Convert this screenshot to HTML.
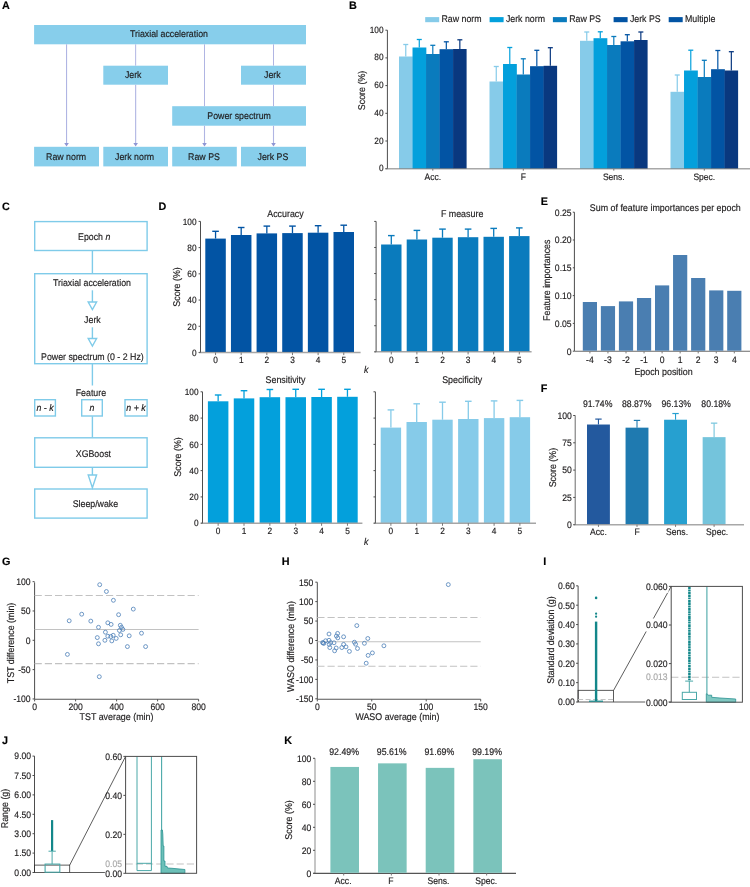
<!DOCTYPE html>
<html><head><meta charset="utf-8"><style>
html,body{margin:0;padding:0;background:#fff;}
svg{display:block;font-family:"Liberation Sans",sans-serif;will-change:transform;text-rendering:geometricPrecision;}
</style></head><body>
<svg width="750" height="887" viewBox="0 0 750 887">
<text x="0" y="0" font-size="10.8" text-anchor="start" font-weight="bold" fill="#000" stroke="#000" stroke-width="0.15" transform="translate(2 9.17)">A</text>
<rect x="34.1" y="25" width="271.9" height="19.3" fill="#87ceeb"/>
<text x="0" y="0" font-size="8.8" text-anchor="middle" fill="#1e1c1d" stroke="#1e1c1d" stroke-width="0.15" transform="translate(169 37.47) scale(1 1.1)">Triaxial acceleration</text>
<rect x="103.3" y="65.7" width="64.7" height="19" fill="#87ceeb"/>
<text x="0" y="0" font-size="8.8" text-anchor="middle" fill="#1e1c1d" stroke="#1e1c1d" stroke-width="0.15" transform="translate(133.2 77.97) scale(1 1.1)">Jerk</text>
<rect x="241" y="65.7" width="65" height="19" fill="#87ceeb"/>
<text x="0" y="0" font-size="8.8" text-anchor="middle" fill="#1e1c1d" stroke="#1e1c1d" stroke-width="0.15" transform="translate(272.3 77.97) scale(1 1.1)">Jerk</text>
<rect x="172.2" y="106.2" width="133.8" height="19.5" fill="#87ceeb"/>
<text x="0" y="0" font-size="8.8" text-anchor="middle" fill="#1e1c1d" stroke="#1e1c1d" stroke-width="0.15" transform="translate(239.1 119.07) scale(1 1.1)">Power spectrum</text>
<rect x="34.1" y="146.8" width="64.9" height="19.6" fill="#87ceeb"/>
<text x="0" y="0" font-size="8.8" text-anchor="middle" fill="#1e1c1d" stroke="#1e1c1d" stroke-width="0.15" transform="translate(66.1 159.57) scale(1 1.1)">Raw norm</text>
<rect x="103.3" y="146.8" width="64.7" height="19.6" fill="#87ceeb"/>
<text x="0" y="0" font-size="8.8" text-anchor="middle" fill="#1e1c1d" stroke="#1e1c1d" stroke-width="0.15" transform="translate(134.6 159.57) scale(1 1.1)">Jerk norm</text>
<rect x="172.2" y="146.8" width="64.6" height="19.6" fill="#87ceeb"/>
<text x="0" y="0" font-size="8.8" text-anchor="middle" fill="#1e1c1d" stroke="#1e1c1d" stroke-width="0.15" transform="translate(204 159.57) scale(1 1.1)">Raw PS</text>
<rect x="241" y="146.8" width="65" height="19.6" fill="#87ceeb"/>
<text x="0" y="0" font-size="8.8" text-anchor="middle" fill="#1e1c1d" stroke="#1e1c1d" stroke-width="0.15" transform="translate(272.9 159.57) scale(1 1.1)">Jerk PS</text>
<line x1="66.55" y1="44.3" x2="66.55" y2="143.8" stroke="#b0b5e3" stroke-width="1.1"/>
<polygon points="64.25,143 68.85,143 66.55,146.5" fill="#8e96d4"/>
<line x1="135.65" y1="44.3" x2="135.65" y2="65.7" stroke="#b0b5e3" stroke-width="1"/>
<line x1="135.65" y1="84.7" x2="135.65" y2="143.8" stroke="#b0b5e3" stroke-width="1.1"/>
<polygon points="133.35,143 137.95,143 135.65,146.5" fill="#8e96d4"/>
<line x1="204.5" y1="44.3" x2="204.5" y2="106.2" stroke="#b0b5e3" stroke-width="1"/>
<line x1="204.5" y1="125.7" x2="204.5" y2="143.8" stroke="#b0b5e3" stroke-width="1.1"/>
<polygon points="202.2,143 206.8,143 204.5,146.5" fill="#8e96d4"/>
<line x1="273.5" y1="44.3" x2="273.5" y2="65.7" stroke="#b0b5e3" stroke-width="1"/>
<line x1="273.5" y1="84.7" x2="273.5" y2="106.2" stroke="#b0b5e3" stroke-width="1"/>
<line x1="273.5" y1="125.7" x2="273.5" y2="143.8" stroke="#b0b5e3" stroke-width="1.1"/>
<polygon points="271.2,143 275.8,143 273.5,146.5" fill="#8e96d4"/>
<text x="0" y="0" font-size="10.8" text-anchor="start" font-weight="bold" fill="#000" stroke="#000" stroke-width="0.15" transform="translate(349 9.27)">B</text>
<rect x="425.2" y="17.1" width="14" height="5.1" fill="#86cbe9"/>
<text x="0" y="0" font-size="8.8" text-anchor="start" fill="#1e1c1d" stroke="#1e1c1d" stroke-width="0.15" transform="translate(441.5 22.47) scale(1 1.1)">Raw norm</text>
<rect x="489.6" y="17.1" width="14" height="5.1" fill="#03a0dc"/>
<text x="0" y="0" font-size="8.8" text-anchor="start" fill="#1e1c1d" stroke="#1e1c1d" stroke-width="0.15" transform="translate(505.9 22.47) scale(1 1.1)">Jerk norm</text>
<rect x="552.9" y="17.1" width="14" height="5.1" fill="#0a7bbd"/>
<text x="0" y="0" font-size="8.8" text-anchor="start" fill="#1e1c1d" stroke="#1e1c1d" stroke-width="0.15" transform="translate(569.2 22.47) scale(1 1.1)">Raw PS</text>
<rect x="613.6" y="17.1" width="14" height="5.1" fill="#0254a4"/>
<text x="0" y="0" font-size="8.8" text-anchor="start" fill="#1e1c1d" stroke="#1e1c1d" stroke-width="0.15" transform="translate(629.9 22.47) scale(1 1.1)">Jerk PS</text>
<rect x="668.7" y="17.1" width="14" height="5.1" fill="#0254a4"/>
<text x="0" y="0" font-size="8.8" text-anchor="start" fill="#1e1c1d" stroke="#1e1c1d" stroke-width="0.15" transform="translate(685 22.47) scale(1 1.1)">Multiple</text>
<line x1="387.4" y1="30.2" x2="387.4" y2="168.7" stroke="#4d4d4d" stroke-width="1"/>
<line x1="385.4" y1="168.7" x2="387.4" y2="168.7" stroke="#4d4d4d" stroke-width="1"/>
<text x="0" y="0" font-size="8.3" text-anchor="end" fill="#1e1c1d" stroke="#1e1c1d" stroke-width="0.15" transform="translate(383.6 171.27) scale(1 1.1)">0</text>
<line x1="385.4" y1="141" x2="387.4" y2="141" stroke="#4d4d4d" stroke-width="1"/>
<text x="0" y="0" font-size="8.3" text-anchor="end" fill="#1e1c1d" stroke="#1e1c1d" stroke-width="0.15" transform="translate(383.6 143.57) scale(1 1.1)">20</text>
<line x1="385.4" y1="113.3" x2="387.4" y2="113.3" stroke="#4d4d4d" stroke-width="1"/>
<text x="0" y="0" font-size="8.3" text-anchor="end" fill="#1e1c1d" stroke="#1e1c1d" stroke-width="0.15" transform="translate(383.6 115.87) scale(1 1.1)">40</text>
<line x1="385.4" y1="85.6" x2="387.4" y2="85.6" stroke="#4d4d4d" stroke-width="1"/>
<text x="0" y="0" font-size="8.3" text-anchor="end" fill="#1e1c1d" stroke="#1e1c1d" stroke-width="0.15" transform="translate(383.6 88.17) scale(1 1.1)">60</text>
<line x1="385.4" y1="57.9" x2="387.4" y2="57.9" stroke="#4d4d4d" stroke-width="1"/>
<text x="0" y="0" font-size="8.3" text-anchor="end" fill="#1e1c1d" stroke="#1e1c1d" stroke-width="0.15" transform="translate(383.6 60.47) scale(1 1.1)">80</text>
<line x1="385.4" y1="30.2" x2="387.4" y2="30.2" stroke="#4d4d4d" stroke-width="1"/>
<text x="0" y="0" font-size="8.3" text-anchor="end" fill="#1e1c1d" stroke="#1e1c1d" stroke-width="0.15" transform="translate(383.6 32.77) scale(1 1.1)">100</text>
<text x="0" y="0" font-size="8.9" text-anchor="middle" fill="#1e1c1d" stroke="#1e1c1d" stroke-width="0.15" transform="translate(361.1 90.5) rotate(-90) translate(0 3.5) scale(1 1.1)">Score (%)</text>
<rect x="399" y="56.5" width="13.82" height="112.2" fill="#86cbe9"/>
<line x1="405.76" y1="44.5" x2="405.76" y2="56.5" stroke="#86cbe9" stroke-width="1.2"/>
<line x1="403.26" y1="44.5" x2="408.26" y2="44.5" stroke="#86cbe9" stroke-width="1.3"/>
<rect x="412.52" y="47.5" width="13.82" height="121.2" fill="#03a0dc"/>
<line x1="419.28" y1="39.5" x2="419.28" y2="47.5" stroke="#03a0dc" stroke-width="1.2"/>
<line x1="416.78" y1="39.5" x2="421.78" y2="39.5" stroke="#03a0dc" stroke-width="1.3"/>
<rect x="426.04" y="54" width="13.82" height="114.7" fill="#0a7bbd"/>
<line x1="432.8" y1="45.3" x2="432.8" y2="54" stroke="#0a7bbd" stroke-width="1.2"/>
<line x1="430.3" y1="45.3" x2="435.3" y2="45.3" stroke="#0a7bbd" stroke-width="1.3"/>
<rect x="439.56" y="49.2" width="13.82" height="119.5" fill="#0254a4"/>
<line x1="446.32" y1="41.8" x2="446.32" y2="49.2" stroke="#0254a4" stroke-width="1.2"/>
<line x1="443.82" y1="41.8" x2="448.82" y2="41.8" stroke="#0254a4" stroke-width="1.3"/>
<rect x="453.08" y="49" width="13.52" height="119.7" fill="#09387f"/>
<line x1="459.84" y1="39.8" x2="459.84" y2="49" stroke="#09387f" stroke-width="1.2"/>
<line x1="457.34" y1="39.8" x2="462.34" y2="39.8" stroke="#09387f" stroke-width="1.3"/>
<line x1="432.8" y1="168.7" x2="432.8" y2="170.7" stroke="#7a7a7a" stroke-width="1"/>
<text x="0" y="0" font-size="8.5" text-anchor="middle" fill="#1e1c1d" stroke="#1e1c1d" stroke-width="0.15" transform="translate(432.8 179.65) scale(1 1.1)">Acc.</text>
<rect x="489.5" y="81.5" width="13.82" height="87.2" fill="#86cbe9"/>
<line x1="496.26" y1="66.5" x2="496.26" y2="81.5" stroke="#86cbe9" stroke-width="1.2"/>
<line x1="493.76" y1="66.5" x2="498.76" y2="66.5" stroke="#86cbe9" stroke-width="1.3"/>
<rect x="503.02" y="64" width="13.82" height="104.7" fill="#03a0dc"/>
<line x1="509.78" y1="47.5" x2="509.78" y2="64" stroke="#03a0dc" stroke-width="1.2"/>
<line x1="507.28" y1="47.5" x2="512.28" y2="47.5" stroke="#03a0dc" stroke-width="1.3"/>
<rect x="516.54" y="74.5" width="13.82" height="94.2" fill="#0a7bbd"/>
<line x1="523.3" y1="58.8" x2="523.3" y2="74.5" stroke="#0a7bbd" stroke-width="1.2"/>
<line x1="520.8" y1="58.8" x2="525.8" y2="58.8" stroke="#0a7bbd" stroke-width="1.3"/>
<rect x="530.06" y="66.2" width="13.82" height="102.5" fill="#0254a4"/>
<line x1="536.82" y1="50.3" x2="536.82" y2="66.2" stroke="#0254a4" stroke-width="1.2"/>
<line x1="534.32" y1="50.3" x2="539.32" y2="50.3" stroke="#0254a4" stroke-width="1.3"/>
<rect x="543.58" y="65.8" width="13.52" height="102.9" fill="#09387f"/>
<line x1="550.34" y1="47.7" x2="550.34" y2="65.8" stroke="#09387f" stroke-width="1.2"/>
<line x1="547.84" y1="47.7" x2="552.84" y2="47.7" stroke="#09387f" stroke-width="1.3"/>
<line x1="523.3" y1="168.7" x2="523.3" y2="170.7" stroke="#7a7a7a" stroke-width="1"/>
<text x="0" y="0" font-size="8.5" text-anchor="middle" fill="#1e1c1d" stroke="#1e1c1d" stroke-width="0.15" transform="translate(523.3 179.65) scale(1 1.1)">F</text>
<rect x="580" y="40.8" width="13.82" height="127.9" fill="#86cbe9"/>
<line x1="586.76" y1="32" x2="586.76" y2="40.8" stroke="#86cbe9" stroke-width="1.2"/>
<line x1="584.26" y1="32" x2="589.26" y2="32" stroke="#86cbe9" stroke-width="1.3"/>
<rect x="593.52" y="38.2" width="13.82" height="130.5" fill="#03a0dc"/>
<line x1="600.28" y1="31.8" x2="600.28" y2="38.2" stroke="#03a0dc" stroke-width="1.2"/>
<line x1="597.78" y1="31.8" x2="602.78" y2="31.8" stroke="#03a0dc" stroke-width="1.3"/>
<rect x="607.04" y="45" width="13.82" height="123.7" fill="#0a7bbd"/>
<line x1="613.8" y1="36.5" x2="613.8" y2="45" stroke="#0a7bbd" stroke-width="1.2"/>
<line x1="611.3" y1="36.5" x2="616.3" y2="36.5" stroke="#0a7bbd" stroke-width="1.3"/>
<rect x="620.56" y="41.3" width="13.82" height="127.4" fill="#0254a4"/>
<line x1="627.32" y1="34.7" x2="627.32" y2="41.3" stroke="#0254a4" stroke-width="1.2"/>
<line x1="624.82" y1="34.7" x2="629.82" y2="34.7" stroke="#0254a4" stroke-width="1.3"/>
<rect x="634.08" y="40" width="13.52" height="128.7" fill="#09387f"/>
<line x1="640.84" y1="32" x2="640.84" y2="40" stroke="#09387f" stroke-width="1.2"/>
<line x1="638.34" y1="32" x2="643.34" y2="32" stroke="#09387f" stroke-width="1.3"/>
<line x1="613.8" y1="168.7" x2="613.8" y2="170.7" stroke="#7a7a7a" stroke-width="1"/>
<text x="0" y="0" font-size="8.5" text-anchor="middle" fill="#1e1c1d" stroke="#1e1c1d" stroke-width="0.15" transform="translate(613.8 179.65) scale(1 1.1)">Sens.</text>
<rect x="670.5" y="91.8" width="13.82" height="76.9" fill="#86cbe9"/>
<line x1="677.26" y1="75" x2="677.26" y2="91.8" stroke="#86cbe9" stroke-width="1.2"/>
<line x1="674.76" y1="75" x2="679.76" y2="75" stroke="#86cbe9" stroke-width="1.3"/>
<rect x="684.02" y="70.5" width="13.82" height="98.2" fill="#03a0dc"/>
<line x1="690.78" y1="50.2" x2="690.78" y2="70.5" stroke="#03a0dc" stroke-width="1.2"/>
<line x1="688.28" y1="50.2" x2="693.28" y2="50.2" stroke="#03a0dc" stroke-width="1.3"/>
<rect x="697.54" y="77" width="13.82" height="91.7" fill="#0a7bbd"/>
<line x1="704.3" y1="60.3" x2="704.3" y2="77" stroke="#0a7bbd" stroke-width="1.2"/>
<line x1="701.8" y1="60.3" x2="706.8" y2="60.3" stroke="#0a7bbd" stroke-width="1.3"/>
<rect x="711.06" y="69.2" width="13.82" height="99.5" fill="#0254a4"/>
<line x1="717.82" y1="50.5" x2="717.82" y2="69.2" stroke="#0254a4" stroke-width="1.2"/>
<line x1="715.32" y1="50.5" x2="720.32" y2="50.5" stroke="#0254a4" stroke-width="1.3"/>
<rect x="724.58" y="70.5" width="13.52" height="98.2" fill="#09387f"/>
<line x1="731.34" y1="51.7" x2="731.34" y2="70.5" stroke="#09387f" stroke-width="1.2"/>
<line x1="728.84" y1="51.7" x2="733.84" y2="51.7" stroke="#09387f" stroke-width="1.3"/>
<line x1="704.3" y1="168.7" x2="704.3" y2="170.7" stroke="#7a7a7a" stroke-width="1"/>
<text x="0" y="0" font-size="8.5" text-anchor="middle" fill="#1e1c1d" stroke="#1e1c1d" stroke-width="0.15" transform="translate(704.3 179.65) scale(1 1.1)">Spec.</text>
<line x1="385.4" y1="168.7" x2="750" y2="168.7" stroke="#6e6e6e" stroke-width="1.5" stroke-opacity="0.6"/>
<text x="0" y="0" font-size="10.8" text-anchor="start" font-weight="bold" fill="#000" stroke="#000" stroke-width="0.15" transform="translate(2 210.37)">C</text>
<rect x="34.7" y="221.6" width="112.4" height="28.9" fill="none" stroke="#7fcbe9" stroke-width="1.4"/>
<text x="0" y="0" font-size="8.8" text-anchor="middle" fill="#1e1c1d" stroke="#1e1c1d" stroke-width="0.15" transform="translate(94.2 239.97) scale(1 1.1)">Epoch <tspan font-style="italic">n</tspan></text>
<line x1="92.4" y1="250.8" x2="92.4" y2="273.2" stroke="#7fcbe9" stroke-width="1.4"/>
<rect x="34.7" y="273.7" width="112.4" height="90" fill="none" stroke="#7fcbe9" stroke-width="1.4"/>
<text x="0" y="0" font-size="8.8" text-anchor="middle" fill="#1e1c1d" stroke="#1e1c1d" stroke-width="0.15" transform="translate(92 286.27) scale(1 1.1)">Triaxial acceleration</text>
<line x1="92.4" y1="290.3" x2="92.4" y2="302" stroke="#7fcbe9" stroke-width="1.4"/>
<polygon points="88.2,302 96.6,302 92.4,309.5" fill="#fff" stroke="#7fcbe9" stroke-width="1.4"/>
<text x="0" y="0" font-size="8.8" text-anchor="middle" fill="#1e1c1d" stroke="#1e1c1d" stroke-width="0.15" transform="translate(92.4 323.07) scale(1 1.1)">Jerk</text>
<line x1="92.4" y1="327.3" x2="92.4" y2="338.5" stroke="#7fcbe9" stroke-width="1.4"/>
<polygon points="88.2,338.5 96.6,338.5 92.4,346" fill="#fff" stroke="#7fcbe9" stroke-width="1.4"/>
<text x="0" y="0" font-size="8.8" text-anchor="middle" fill="#1e1c1d" stroke="#1e1c1d" stroke-width="0.15" transform="translate(92.4 359.57) scale(1 1.1)">Power spectrum (0 - 2 Hz)</text>
<line x1="92.4" y1="364" x2="92.4" y2="385.5" stroke="#7fcbe9" stroke-width="1.4"/>
<text x="0" y="0" font-size="8.8" text-anchor="middle" fill="#1e1c1d" stroke="#1e1c1d" stroke-width="0.15" transform="translate(90.9 396.27) scale(1 1.1)">Feature</text>
<rect x="34.7" y="399.7" width="20.7" height="16.3" fill="none" stroke="#7fcbe9" stroke-width="1.4"/>
<rect x="81.7" y="399.7" width="20.6" height="16.3" fill="none" stroke="#7fcbe9" stroke-width="1.4"/>
<rect x="125" y="399.7" width="22.1" height="16.3" fill="none" stroke="#7fcbe9" stroke-width="1.4"/>
<text x="0" y="0" font-size="8.8" text-anchor="middle" font-style="italic" fill="#1e1c1d" stroke="#1e1c1d" stroke-width="0.15" transform="translate(45 411.27) scale(1 1.1)">n - k</text>
<text x="0" y="0" font-size="8.8" text-anchor="middle" font-style="italic" fill="#1e1c1d" stroke="#1e1c1d" stroke-width="0.15" transform="translate(92 411.27) scale(1 1.1)">n</text>
<text x="0" y="0" font-size="8.8" text-anchor="middle" font-style="italic" fill="#1e1c1d" stroke="#1e1c1d" stroke-width="0.15" transform="translate(136 411.27) scale(1 1.1)">n + k</text>
<line x1="92.4" y1="416.3" x2="92.4" y2="437.3" stroke="#7fcbe9" stroke-width="1.4"/>
<rect x="34.7" y="437.8" width="112.4" height="29.5" fill="none" stroke="#7fcbe9" stroke-width="1.4"/>
<text x="0" y="0" font-size="8.8" text-anchor="middle" fill="#1e1c1d" stroke="#1e1c1d" stroke-width="0.15" transform="translate(93.4 457.17) scale(1 1.1)">XGBoost</text>
<line x1="92.4" y1="467.6" x2="92.4" y2="475" stroke="#7fcbe9" stroke-width="1.4"/>
<polygon points="88.2,475 96.6,475 92.4,487.8" fill="#fff" stroke="#7fcbe9" stroke-width="1.4"/>
<rect x="34.7" y="489" width="112.4" height="29.1" fill="none" stroke="#7fcbe9" stroke-width="1.4"/>
<text x="0" y="0" font-size="8.8" text-anchor="middle" fill="#1e1c1d" stroke="#1e1c1d" stroke-width="0.15" transform="translate(95.4 507.37) scale(1 1.1)">Sleep/wake</text>
<text x="0" y="0" font-size="10.8" text-anchor="start" font-weight="bold" fill="#000" stroke="#000" stroke-width="0.15" transform="translate(158.5 210.47)">D</text>
<line x1="200.5" y1="221.4" x2="200.5" y2="352.5" stroke="#4d4d4d" stroke-width="1"/>
<line x1="198.6" y1="352.5" x2="200.5" y2="352.5" stroke="#4d4d4d" stroke-width="1"/>
<text x="0" y="0" font-size="8.3" text-anchor="end" fill="#1e1c1d" stroke="#1e1c1d" stroke-width="0.15" transform="translate(196.5 355.77) scale(1 1.1)">0</text>
<line x1="198.6" y1="326.28" x2="200.5" y2="326.28" stroke="#4d4d4d" stroke-width="1"/>
<text x="0" y="0" font-size="8.3" text-anchor="end" fill="#1e1c1d" stroke="#1e1c1d" stroke-width="0.15" transform="translate(196.5 329.55) scale(1 1.1)">20</text>
<line x1="198.6" y1="300.06" x2="200.5" y2="300.06" stroke="#4d4d4d" stroke-width="1"/>
<text x="0" y="0" font-size="8.3" text-anchor="end" fill="#1e1c1d" stroke="#1e1c1d" stroke-width="0.15" transform="translate(196.5 303.33) scale(1 1.1)">40</text>
<line x1="198.6" y1="273.84" x2="200.5" y2="273.84" stroke="#4d4d4d" stroke-width="1"/>
<text x="0" y="0" font-size="8.3" text-anchor="end" fill="#1e1c1d" stroke="#1e1c1d" stroke-width="0.15" transform="translate(196.5 277.11) scale(1 1.1)">60</text>
<line x1="198.6" y1="247.62" x2="200.5" y2="247.62" stroke="#4d4d4d" stroke-width="1"/>
<text x="0" y="0" font-size="8.3" text-anchor="end" fill="#1e1c1d" stroke="#1e1c1d" stroke-width="0.15" transform="translate(196.5 250.89) scale(1 1.1)">80</text>
<line x1="198.6" y1="221.4" x2="200.5" y2="221.4" stroke="#4d4d4d" stroke-width="1"/>
<text x="0" y="0" font-size="8.3" text-anchor="end" fill="#1e1c1d" stroke="#1e1c1d" stroke-width="0.15" transform="translate(196.5 224.67) scale(1 1.1)">100</text>
<rect x="205.3" y="238.6" width="20.5" height="113.4" fill="#0254a4"/>
<line x1="215.55" y1="231.3" x2="215.55" y2="238.6" stroke="#0254a4" stroke-width="1.3"/>
<line x1="212.25" y1="231.3" x2="218.85" y2="231.3" stroke="#0254a4" stroke-width="1.4"/>
<line x1="215.55" y1="352.5" x2="215.55" y2="355.1" stroke="#7a7a7a" stroke-width="1"/>
<text x="0" y="0" font-size="8.3" text-anchor="middle" fill="#1e1c1d" stroke="#1e1c1d" stroke-width="0.15" transform="translate(215.55 363.47) scale(1 1.1)">0</text>
<rect x="230.94" y="235" width="20.5" height="117" fill="#0254a4"/>
<line x1="241.19" y1="227.5" x2="241.19" y2="235" stroke="#0254a4" stroke-width="1.3"/>
<line x1="237.89" y1="227.5" x2="244.49" y2="227.5" stroke="#0254a4" stroke-width="1.4"/>
<line x1="241.19" y1="352.5" x2="241.19" y2="355.1" stroke="#7a7a7a" stroke-width="1"/>
<text x="0" y="0" font-size="8.3" text-anchor="middle" fill="#1e1c1d" stroke="#1e1c1d" stroke-width="0.15" transform="translate(241.19 363.47) scale(1 1.1)">1</text>
<rect x="256.58" y="233.4" width="20.5" height="118.6" fill="#0254a4"/>
<line x1="266.83" y1="226.1" x2="266.83" y2="233.4" stroke="#0254a4" stroke-width="1.3"/>
<line x1="263.53" y1="226.1" x2="270.13" y2="226.1" stroke="#0254a4" stroke-width="1.4"/>
<line x1="266.83" y1="352.5" x2="266.83" y2="355.1" stroke="#7a7a7a" stroke-width="1"/>
<text x="0" y="0" font-size="8.3" text-anchor="middle" fill="#1e1c1d" stroke="#1e1c1d" stroke-width="0.15" transform="translate(266.83 363.47) scale(1 1.1)">2</text>
<rect x="282.22" y="233.1" width="20.5" height="118.9" fill="#0254a4"/>
<line x1="292.47" y1="226.1" x2="292.47" y2="233.1" stroke="#0254a4" stroke-width="1.3"/>
<line x1="289.17" y1="226.1" x2="295.77" y2="226.1" stroke="#0254a4" stroke-width="1.4"/>
<line x1="292.47" y1="352.5" x2="292.47" y2="355.1" stroke="#7a7a7a" stroke-width="1"/>
<text x="0" y="0" font-size="8.3" text-anchor="middle" fill="#1e1c1d" stroke="#1e1c1d" stroke-width="0.15" transform="translate(292.47 363.47) scale(1 1.1)">3</text>
<rect x="307.86" y="232.7" width="20.5" height="119.3" fill="#0254a4"/>
<line x1="318.11" y1="225.7" x2="318.11" y2="232.7" stroke="#0254a4" stroke-width="1.3"/>
<line x1="314.81" y1="225.7" x2="321.41" y2="225.7" stroke="#0254a4" stroke-width="1.4"/>
<line x1="318.11" y1="352.5" x2="318.11" y2="355.1" stroke="#7a7a7a" stroke-width="1"/>
<text x="0" y="0" font-size="8.3" text-anchor="middle" fill="#1e1c1d" stroke="#1e1c1d" stroke-width="0.15" transform="translate(318.11 363.47) scale(1 1.1)">4</text>
<rect x="333.5" y="232" width="20.5" height="120" fill="#0254a4"/>
<line x1="343.75" y1="225.2" x2="343.75" y2="232" stroke="#0254a4" stroke-width="1.3"/>
<line x1="340.45" y1="225.2" x2="347.05" y2="225.2" stroke="#0254a4" stroke-width="1.4"/>
<line x1="343.75" y1="352.5" x2="343.75" y2="355.1" stroke="#7a7a7a" stroke-width="1"/>
<text x="0" y="0" font-size="8.3" text-anchor="middle" fill="#1e1c1d" stroke="#1e1c1d" stroke-width="0.15" transform="translate(343.75 363.47) scale(1 1.1)">5</text>
<line x1="199" y1="352.5" x2="360.6" y2="352.5" stroke="#6e6e6e" stroke-width="1.4" stroke-opacity="0.62"/>
<text x="0" y="0" font-size="8.9" text-anchor="middle" fill="#1e1c1d" stroke="#1e1c1d" stroke-width="0.15" transform="translate(285.5 217) scale(1 1.1)">Accuracy</text>
<text x="0" y="0" font-size="8.9" text-anchor="middle" fill="#1e1c1d" stroke="#1e1c1d" stroke-width="0.15" transform="translate(176.6 287) rotate(-90) translate(0 3.5) scale(1 1.1)">Score (%)</text>
<line x1="376.1" y1="221.4" x2="376.1" y2="351.8" stroke="#4d4d4d" stroke-width="1"/>
<line x1="374.2" y1="351.8" x2="376.1" y2="351.8" stroke="#4d4d4d" stroke-width="1"/>
<line x1="374.2" y1="325.72" x2="376.1" y2="325.72" stroke="#4d4d4d" stroke-width="1"/>
<line x1="374.2" y1="299.64" x2="376.1" y2="299.64" stroke="#4d4d4d" stroke-width="1"/>
<line x1="374.2" y1="273.56" x2="376.1" y2="273.56" stroke="#4d4d4d" stroke-width="1"/>
<line x1="374.2" y1="247.48" x2="376.1" y2="247.48" stroke="#4d4d4d" stroke-width="1"/>
<line x1="374.2" y1="221.4" x2="376.1" y2="221.4" stroke="#4d4d4d" stroke-width="1"/>
<rect x="381.1" y="244.5" width="20.4" height="106.8" fill="#0a7bbd"/>
<line x1="391.3" y1="235.6" x2="391.3" y2="244.5" stroke="#0a7bbd" stroke-width="1.3"/>
<line x1="388" y1="235.6" x2="394.6" y2="235.6" stroke="#0a7bbd" stroke-width="1.4"/>
<line x1="391.3" y1="351.8" x2="391.3" y2="354.4" stroke="#7a7a7a" stroke-width="1"/>
<text x="0" y="0" font-size="8.3" text-anchor="middle" fill="#1e1c1d" stroke="#1e1c1d" stroke-width="0.15" transform="translate(391.3 362.77) scale(1 1.1)">0</text>
<rect x="406.7" y="239.5" width="20.4" height="111.8" fill="#0a7bbd"/>
<line x1="416.9" y1="230.4" x2="416.9" y2="239.5" stroke="#0a7bbd" stroke-width="1.3"/>
<line x1="413.6" y1="230.4" x2="420.2" y2="230.4" stroke="#0a7bbd" stroke-width="1.4"/>
<line x1="416.9" y1="351.8" x2="416.9" y2="354.4" stroke="#7a7a7a" stroke-width="1"/>
<text x="0" y="0" font-size="8.3" text-anchor="middle" fill="#1e1c1d" stroke="#1e1c1d" stroke-width="0.15" transform="translate(416.9 362.77) scale(1 1.1)">1</text>
<rect x="432.3" y="237.7" width="20.4" height="113.6" fill="#0a7bbd"/>
<line x1="442.5" y1="229.1" x2="442.5" y2="237.7" stroke="#0a7bbd" stroke-width="1.3"/>
<line x1="439.2" y1="229.1" x2="445.8" y2="229.1" stroke="#0a7bbd" stroke-width="1.4"/>
<line x1="442.5" y1="351.8" x2="442.5" y2="354.4" stroke="#7a7a7a" stroke-width="1"/>
<text x="0" y="0" font-size="8.3" text-anchor="middle" fill="#1e1c1d" stroke="#1e1c1d" stroke-width="0.15" transform="translate(442.5 362.77) scale(1 1.1)">2</text>
<rect x="457.9" y="237.2" width="20.4" height="114.1" fill="#0a7bbd"/>
<line x1="468.1" y1="229.1" x2="468.1" y2="237.2" stroke="#0a7bbd" stroke-width="1.3"/>
<line x1="464.8" y1="229.1" x2="471.4" y2="229.1" stroke="#0a7bbd" stroke-width="1.4"/>
<line x1="468.1" y1="351.8" x2="468.1" y2="354.4" stroke="#7a7a7a" stroke-width="1"/>
<text x="0" y="0" font-size="8.3" text-anchor="middle" fill="#1e1c1d" stroke="#1e1c1d" stroke-width="0.15" transform="translate(468.1 362.77) scale(1 1.1)">3</text>
<rect x="483.5" y="236.8" width="20.4" height="114.5" fill="#0a7bbd"/>
<line x1="493.7" y1="228.4" x2="493.7" y2="236.8" stroke="#0a7bbd" stroke-width="1.3"/>
<line x1="490.4" y1="228.4" x2="497" y2="228.4" stroke="#0a7bbd" stroke-width="1.4"/>
<line x1="493.7" y1="351.8" x2="493.7" y2="354.4" stroke="#7a7a7a" stroke-width="1"/>
<text x="0" y="0" font-size="8.3" text-anchor="middle" fill="#1e1c1d" stroke="#1e1c1d" stroke-width="0.15" transform="translate(493.7 362.77) scale(1 1.1)">4</text>
<rect x="509.1" y="236.1" width="20.4" height="115.2" fill="#0a7bbd"/>
<line x1="519.3" y1="227.9" x2="519.3" y2="236.1" stroke="#0a7bbd" stroke-width="1.3"/>
<line x1="516" y1="227.9" x2="522.6" y2="227.9" stroke="#0a7bbd" stroke-width="1.4"/>
<line x1="519.3" y1="351.8" x2="519.3" y2="354.4" stroke="#7a7a7a" stroke-width="1"/>
<text x="0" y="0" font-size="8.3" text-anchor="middle" fill="#1e1c1d" stroke="#1e1c1d" stroke-width="0.15" transform="translate(519.3 362.77) scale(1 1.1)">5</text>
<line x1="374.6" y1="351.8" x2="531.6" y2="351.8" stroke="#6e6e6e" stroke-width="1.4" stroke-opacity="0.62"/>
<text x="0" y="0" font-size="8.9" text-anchor="middle" fill="#1e1c1d" stroke="#1e1c1d" stroke-width="0.15" transform="translate(462.1 217) scale(1 1.1)">F measure</text>
<line x1="202.5" y1="391.8" x2="202.5" y2="523.2" stroke="#4d4d4d" stroke-width="1"/>
<line x1="200.6" y1="523.2" x2="202.5" y2="523.2" stroke="#4d4d4d" stroke-width="1"/>
<text x="0" y="0" font-size="8.3" text-anchor="end" fill="#1e1c1d" stroke="#1e1c1d" stroke-width="0.15" transform="translate(198.5 526.47) scale(1 1.1)">0</text>
<line x1="200.6" y1="496.92" x2="202.5" y2="496.92" stroke="#4d4d4d" stroke-width="1"/>
<text x="0" y="0" font-size="8.3" text-anchor="end" fill="#1e1c1d" stroke="#1e1c1d" stroke-width="0.15" transform="translate(198.5 500.19) scale(1 1.1)">20</text>
<line x1="200.6" y1="470.64" x2="202.5" y2="470.64" stroke="#4d4d4d" stroke-width="1"/>
<text x="0" y="0" font-size="8.3" text-anchor="end" fill="#1e1c1d" stroke="#1e1c1d" stroke-width="0.15" transform="translate(198.5 473.91) scale(1 1.1)">40</text>
<line x1="200.6" y1="444.36" x2="202.5" y2="444.36" stroke="#4d4d4d" stroke-width="1"/>
<text x="0" y="0" font-size="8.3" text-anchor="end" fill="#1e1c1d" stroke="#1e1c1d" stroke-width="0.15" transform="translate(198.5 447.63) scale(1 1.1)">60</text>
<line x1="200.6" y1="418.08" x2="202.5" y2="418.08" stroke="#4d4d4d" stroke-width="1"/>
<text x="0" y="0" font-size="8.3" text-anchor="end" fill="#1e1c1d" stroke="#1e1c1d" stroke-width="0.15" transform="translate(198.5 421.35) scale(1 1.1)">80</text>
<line x1="200.6" y1="391.8" x2="202.5" y2="391.8" stroke="#4d4d4d" stroke-width="1"/>
<text x="0" y="0" font-size="8.3" text-anchor="end" fill="#1e1c1d" stroke="#1e1c1d" stroke-width="0.15" transform="translate(198.5 395.07) scale(1 1.1)">100</text>
<rect x="207.9" y="401.3" width="20.5" height="121.4" fill="#03a0dc"/>
<line x1="218.15" y1="395" x2="218.15" y2="401.3" stroke="#03a0dc" stroke-width="1.3"/>
<line x1="214.85" y1="395" x2="221.45" y2="395" stroke="#03a0dc" stroke-width="1.4"/>
<line x1="218.15" y1="523.2" x2="218.15" y2="525.8" stroke="#7a7a7a" stroke-width="1"/>
<text x="0" y="0" font-size="8.3" text-anchor="middle" fill="#1e1c1d" stroke="#1e1c1d" stroke-width="0.15" transform="translate(218.15 534.17) scale(1 1.1)">0</text>
<rect x="233.76" y="398.4" width="20.5" height="124.3" fill="#03a0dc"/>
<line x1="244.01" y1="390.7" x2="244.01" y2="398.4" stroke="#03a0dc" stroke-width="1.3"/>
<line x1="240.71" y1="390.7" x2="247.31" y2="390.7" stroke="#03a0dc" stroke-width="1.4"/>
<line x1="244.01" y1="523.2" x2="244.01" y2="525.8" stroke="#7a7a7a" stroke-width="1"/>
<text x="0" y="0" font-size="8.3" text-anchor="middle" fill="#1e1c1d" stroke="#1e1c1d" stroke-width="0.15" transform="translate(244.01 534.17) scale(1 1.1)">1</text>
<rect x="259.62" y="397.2" width="20.5" height="125.5" fill="#03a0dc"/>
<line x1="269.87" y1="389.5" x2="269.87" y2="397.2" stroke="#03a0dc" stroke-width="1.3"/>
<line x1="266.57" y1="389.5" x2="273.17" y2="389.5" stroke="#03a0dc" stroke-width="1.4"/>
<line x1="269.87" y1="523.2" x2="269.87" y2="525.8" stroke="#7a7a7a" stroke-width="1"/>
<text x="0" y="0" font-size="8.3" text-anchor="middle" fill="#1e1c1d" stroke="#1e1c1d" stroke-width="0.15" transform="translate(269.87 534.17) scale(1 1.1)">2</text>
<rect x="285.48" y="397.2" width="20.5" height="125.5" fill="#03a0dc"/>
<line x1="295.73" y1="389.3" x2="295.73" y2="397.2" stroke="#03a0dc" stroke-width="1.3"/>
<line x1="292.43" y1="389.3" x2="299.03" y2="389.3" stroke="#03a0dc" stroke-width="1.4"/>
<line x1="295.73" y1="523.2" x2="295.73" y2="525.8" stroke="#7a7a7a" stroke-width="1"/>
<text x="0" y="0" font-size="8.3" text-anchor="middle" fill="#1e1c1d" stroke="#1e1c1d" stroke-width="0.15" transform="translate(295.73 534.17) scale(1 1.1)">3</text>
<rect x="311.34" y="397" width="20.5" height="125.7" fill="#03a0dc"/>
<line x1="321.59" y1="389.3" x2="321.59" y2="397" stroke="#03a0dc" stroke-width="1.3"/>
<line x1="318.29" y1="389.3" x2="324.89" y2="389.3" stroke="#03a0dc" stroke-width="1.4"/>
<line x1="321.59" y1="523.2" x2="321.59" y2="525.8" stroke="#7a7a7a" stroke-width="1"/>
<text x="0" y="0" font-size="8.3" text-anchor="middle" fill="#1e1c1d" stroke="#1e1c1d" stroke-width="0.15" transform="translate(321.59 534.17) scale(1 1.1)">4</text>
<rect x="337.2" y="396.8" width="20.5" height="125.9" fill="#03a0dc"/>
<line x1="347.45" y1="389.3" x2="347.45" y2="396.8" stroke="#03a0dc" stroke-width="1.3"/>
<line x1="344.15" y1="389.3" x2="350.75" y2="389.3" stroke="#03a0dc" stroke-width="1.4"/>
<line x1="347.45" y1="523.2" x2="347.45" y2="525.8" stroke="#7a7a7a" stroke-width="1"/>
<text x="0" y="0" font-size="8.3" text-anchor="middle" fill="#1e1c1d" stroke="#1e1c1d" stroke-width="0.15" transform="translate(347.45 534.17) scale(1 1.1)">5</text>
<line x1="201" y1="523.2" x2="362.4" y2="523.2" stroke="#6e6e6e" stroke-width="1.4" stroke-opacity="0.62"/>
<text x="0" y="0" font-size="8.9" text-anchor="middle" fill="#1e1c1d" stroke="#1e1c1d" stroke-width="0.15" transform="translate(285.5 383.3) scale(1 1.1)">Sensitivity</text>
<text x="0" y="0" font-size="8.9" text-anchor="middle" fill="#1e1c1d" stroke="#1e1c1d" stroke-width="0.15" transform="translate(177.5 457) rotate(-90) translate(0 3.5) scale(1 1.1)">Score (%)</text>
<line x1="375.4" y1="391.8" x2="375.4" y2="523.2" stroke="#4d4d4d" stroke-width="1"/>
<line x1="373.5" y1="523.2" x2="375.4" y2="523.2" stroke="#4d4d4d" stroke-width="1"/>
<line x1="373.5" y1="496.92" x2="375.4" y2="496.92" stroke="#4d4d4d" stroke-width="1"/>
<line x1="373.5" y1="470.64" x2="375.4" y2="470.64" stroke="#4d4d4d" stroke-width="1"/>
<line x1="373.5" y1="444.36" x2="375.4" y2="444.36" stroke="#4d4d4d" stroke-width="1"/>
<line x1="373.5" y1="418.08" x2="375.4" y2="418.08" stroke="#4d4d4d" stroke-width="1"/>
<line x1="373.5" y1="391.8" x2="375.4" y2="391.8" stroke="#4d4d4d" stroke-width="1"/>
<rect x="380.7" y="427.6" width="20.4" height="95.1" fill="#86cbe9"/>
<line x1="390.9" y1="409.9" x2="390.9" y2="427.6" stroke="#86cbe9" stroke-width="1.3"/>
<line x1="387.6" y1="409.9" x2="394.2" y2="409.9" stroke="#86cbe9" stroke-width="1.4"/>
<line x1="390.9" y1="523.2" x2="390.9" y2="525.8" stroke="#7a7a7a" stroke-width="1"/>
<text x="0" y="0" font-size="8.3" text-anchor="middle" fill="#1e1c1d" stroke="#1e1c1d" stroke-width="0.15" transform="translate(390.9 534.17) scale(1 1.1)">0</text>
<rect x="406.5" y="422" width="20.4" height="100.7" fill="#86cbe9"/>
<line x1="416.7" y1="403.8" x2="416.7" y2="422" stroke="#86cbe9" stroke-width="1.3"/>
<line x1="413.4" y1="403.8" x2="420" y2="403.8" stroke="#86cbe9" stroke-width="1.4"/>
<line x1="416.7" y1="523.2" x2="416.7" y2="525.8" stroke="#7a7a7a" stroke-width="1"/>
<text x="0" y="0" font-size="8.3" text-anchor="middle" fill="#1e1c1d" stroke="#1e1c1d" stroke-width="0.15" transform="translate(416.7 534.17) scale(1 1.1)">1</text>
<rect x="432.3" y="419.7" width="20.4" height="103" fill="#86cbe9"/>
<line x1="442.5" y1="402.2" x2="442.5" y2="419.7" stroke="#86cbe9" stroke-width="1.3"/>
<line x1="439.2" y1="402.2" x2="445.8" y2="402.2" stroke="#86cbe9" stroke-width="1.4"/>
<line x1="442.5" y1="523.2" x2="442.5" y2="525.8" stroke="#7a7a7a" stroke-width="1"/>
<text x="0" y="0" font-size="8.3" text-anchor="middle" fill="#1e1c1d" stroke="#1e1c1d" stroke-width="0.15" transform="translate(442.5 534.17) scale(1 1.1)">2</text>
<rect x="458.1" y="419" width="20.4" height="103.7" fill="#86cbe9"/>
<line x1="468.3" y1="401.3" x2="468.3" y2="419" stroke="#86cbe9" stroke-width="1.3"/>
<line x1="465" y1="401.3" x2="471.6" y2="401.3" stroke="#86cbe9" stroke-width="1.4"/>
<line x1="468.3" y1="523.2" x2="468.3" y2="525.8" stroke="#7a7a7a" stroke-width="1"/>
<text x="0" y="0" font-size="8.3" text-anchor="middle" fill="#1e1c1d" stroke="#1e1c1d" stroke-width="0.15" transform="translate(468.3 534.17) scale(1 1.1)">3</text>
<rect x="483.9" y="418.1" width="20.4" height="104.6" fill="#86cbe9"/>
<line x1="494.1" y1="400.9" x2="494.1" y2="418.1" stroke="#86cbe9" stroke-width="1.3"/>
<line x1="490.8" y1="400.9" x2="497.4" y2="400.9" stroke="#86cbe9" stroke-width="1.4"/>
<line x1="494.1" y1="523.2" x2="494.1" y2="525.8" stroke="#7a7a7a" stroke-width="1"/>
<text x="0" y="0" font-size="8.3" text-anchor="middle" fill="#1e1c1d" stroke="#1e1c1d" stroke-width="0.15" transform="translate(494.1 534.17) scale(1 1.1)">4</text>
<rect x="509.7" y="417.2" width="20.4" height="105.5" fill="#86cbe9"/>
<line x1="519.9" y1="400.4" x2="519.9" y2="417.2" stroke="#86cbe9" stroke-width="1.3"/>
<line x1="516.6" y1="400.4" x2="523.2" y2="400.4" stroke="#86cbe9" stroke-width="1.4"/>
<line x1="519.9" y1="523.2" x2="519.9" y2="525.8" stroke="#7a7a7a" stroke-width="1"/>
<text x="0" y="0" font-size="8.3" text-anchor="middle" fill="#1e1c1d" stroke="#1e1c1d" stroke-width="0.15" transform="translate(519.9 534.17) scale(1 1.1)">5</text>
<line x1="373.9" y1="523.2" x2="536" y2="523.2" stroke="#6e6e6e" stroke-width="1.4" stroke-opacity="0.62"/>
<text x="0" y="0" font-size="8.9" text-anchor="middle" fill="#1e1c1d" stroke="#1e1c1d" stroke-width="0.15" transform="translate(462.1 383.3) scale(1 1.1)">Specificity</text>
<text x="0" y="0" font-size="8.9" text-anchor="middle" font-style="italic" fill="#1e1c1d" stroke="#1e1c1d" stroke-width="0.15" transform="translate(366.2 372.7) scale(1 1.1)">k</text>
<text x="0" y="0" font-size="8.9" text-anchor="middle" font-style="italic" fill="#1e1c1d" stroke="#1e1c1d" stroke-width="0.15" transform="translate(366.2 544.9) scale(1 1.1)">k</text>
<text x="0" y="0" font-size="10.8" text-anchor="start" font-weight="bold" fill="#000" stroke="#000" stroke-width="0.15" transform="translate(540.8 204.97)">E</text>
<line x1="574.4" y1="212.2" x2="574.4" y2="351.2" stroke="#4d4d4d" stroke-width="1"/>
<line x1="572.8" y1="351.2" x2="574.4" y2="351.2" stroke="#4d4d4d" stroke-width="1"/>
<text x="0" y="0" font-size="8.6" text-anchor="end" fill="#1e1c1d" stroke="#1e1c1d" stroke-width="0.15" transform="translate(571.6 354.59) scale(1 1.1)">0</text>
<line x1="572.8" y1="323.4" x2="574.4" y2="323.4" stroke="#4d4d4d" stroke-width="1"/>
<text x="0" y="0" font-size="8.6" text-anchor="end" fill="#1e1c1d" stroke="#1e1c1d" stroke-width="0.15" transform="translate(571.6 326.79) scale(1 1.1)">0.05</text>
<line x1="572.8" y1="295.6" x2="574.4" y2="295.6" stroke="#4d4d4d" stroke-width="1"/>
<text x="0" y="0" font-size="8.6" text-anchor="end" fill="#1e1c1d" stroke="#1e1c1d" stroke-width="0.15" transform="translate(571.6 298.99) scale(1 1.1)">0.10</text>
<line x1="572.8" y1="267.8" x2="574.4" y2="267.8" stroke="#4d4d4d" stroke-width="1"/>
<text x="0" y="0" font-size="8.6" text-anchor="end" fill="#1e1c1d" stroke="#1e1c1d" stroke-width="0.15" transform="translate(571.6 271.19) scale(1 1.1)">0.15</text>
<line x1="572.8" y1="240" x2="574.4" y2="240" stroke="#4d4d4d" stroke-width="1"/>
<text x="0" y="0" font-size="8.6" text-anchor="end" fill="#1e1c1d" stroke="#1e1c1d" stroke-width="0.15" transform="translate(571.6 243.39) scale(1 1.1)">0.20</text>
<line x1="572.8" y1="212.2" x2="574.4" y2="212.2" stroke="#4d4d4d" stroke-width="1"/>
<text x="0" y="0" font-size="8.6" text-anchor="end" fill="#1e1c1d" stroke="#1e1c1d" stroke-width="0.15" transform="translate(571.6 215.59) scale(1 1.1)">0.25</text>
<line x1="574.4" y1="351.2" x2="750" y2="351.2" stroke="#6a6a6a" stroke-width="1.1"/>
<text x="0" y="0" font-size="8.9" text-anchor="middle" fill="#1e1c1d" stroke="#1e1c1d" stroke-width="0.15" transform="translate(546.8 280.2) rotate(-90) translate(0 3.5) scale(1 1.1)">Feature importances</text>
<text x="0" y="0" font-size="8.9" text-anchor="middle" fill="#1e1c1d" stroke="#1e1c1d" stroke-width="0.15" transform="translate(665.3 211.1) scale(1 1.1)">Sum of feature importances per epoch</text>
<rect x="582.8" y="302" width="14.2" height="48.7" fill="#4a7eb1"/>
<line x1="589.9" y1="351.2" x2="589.9" y2="353.4" stroke="#7a7a7a" stroke-width="1"/>
<text x="0" y="0" font-size="8.6" text-anchor="middle" fill="#1e1c1d" stroke="#1e1c1d" stroke-width="0.15" transform="translate(589.9 362.69) scale(1 1.1)">-4</text>
<rect x="600.85" y="306.1" width="14.2" height="44.6" fill="#4a7eb1"/>
<line x1="607.95" y1="351.2" x2="607.95" y2="353.4" stroke="#7a7a7a" stroke-width="1"/>
<text x="0" y="0" font-size="8.6" text-anchor="middle" fill="#1e1c1d" stroke="#1e1c1d" stroke-width="0.15" transform="translate(607.95 362.69) scale(1 1.1)">-3</text>
<rect x="618.9" y="301.4" width="14.2" height="49.3" fill="#4a7eb1"/>
<line x1="626" y1="351.2" x2="626" y2="353.4" stroke="#7a7a7a" stroke-width="1"/>
<text x="0" y="0" font-size="8.6" text-anchor="middle" fill="#1e1c1d" stroke="#1e1c1d" stroke-width="0.15" transform="translate(626 362.69) scale(1 1.1)">-2</text>
<rect x="636.95" y="298" width="14.2" height="52.7" fill="#4a7eb1"/>
<line x1="644.05" y1="351.2" x2="644.05" y2="353.4" stroke="#7a7a7a" stroke-width="1"/>
<text x="0" y="0" font-size="8.6" text-anchor="middle" fill="#1e1c1d" stroke="#1e1c1d" stroke-width="0.15" transform="translate(644.05 362.69) scale(1 1.1)">-1</text>
<rect x="655" y="285.4" width="14.2" height="65.3" fill="#4a7eb1"/>
<line x1="662.1" y1="351.2" x2="662.1" y2="353.4" stroke="#7a7a7a" stroke-width="1"/>
<text x="0" y="0" font-size="8.6" text-anchor="middle" fill="#1e1c1d" stroke="#1e1c1d" stroke-width="0.15" transform="translate(662.1 362.69) scale(1 1.1)">0</text>
<rect x="673.05" y="255" width="14.2" height="95.7" fill="#4a7eb1"/>
<line x1="680.15" y1="351.2" x2="680.15" y2="353.4" stroke="#7a7a7a" stroke-width="1"/>
<text x="0" y="0" font-size="8.6" text-anchor="middle" fill="#1e1c1d" stroke="#1e1c1d" stroke-width="0.15" transform="translate(680.15 362.69) scale(1 1.1)">1</text>
<rect x="691.1" y="278" width="14.2" height="72.7" fill="#4a7eb1"/>
<line x1="698.2" y1="351.2" x2="698.2" y2="353.4" stroke="#7a7a7a" stroke-width="1"/>
<text x="0" y="0" font-size="8.6" text-anchor="middle" fill="#1e1c1d" stroke="#1e1c1d" stroke-width="0.15" transform="translate(698.2 362.69) scale(1 1.1)">2</text>
<rect x="709.15" y="290.4" width="14.2" height="60.3" fill="#4a7eb1"/>
<line x1="716.25" y1="351.2" x2="716.25" y2="353.4" stroke="#7a7a7a" stroke-width="1"/>
<text x="0" y="0" font-size="8.6" text-anchor="middle" fill="#1e1c1d" stroke="#1e1c1d" stroke-width="0.15" transform="translate(716.25 362.69) scale(1 1.1)">3</text>
<rect x="727.2" y="290.8" width="14.2" height="59.9" fill="#4a7eb1"/>
<line x1="734.3" y1="351.2" x2="734.3" y2="353.4" stroke="#7a7a7a" stroke-width="1"/>
<text x="0" y="0" font-size="8.6" text-anchor="middle" fill="#1e1c1d" stroke="#1e1c1d" stroke-width="0.15" transform="translate(734.3 362.69) scale(1 1.1)">4</text>
<text x="0" y="0" font-size="8.9" text-anchor="middle" fill="#1e1c1d" stroke="#1e1c1d" stroke-width="0.15" transform="translate(663.5 375.4) scale(1 1.1)">Epoch position</text>
<text x="0" y="0" font-size="10.8" text-anchor="start" font-weight="bold" fill="#000" stroke="#000" stroke-width="0.15" transform="translate(540.8 392.17)">F</text>
<line x1="575.2" y1="415.5" x2="575.2" y2="524.7" stroke="#6a6a6a" stroke-width="1"/>
<line x1="573.2" y1="524.7" x2="575.2" y2="524.7" stroke="#4d4d4d" stroke-width="1"/>
<text x="0" y="0" font-size="8.6" text-anchor="end" fill="#1e1c1d" stroke="#1e1c1d" stroke-width="0.15" transform="translate(571.8 528.09) scale(1 1.1)">0</text>
<line x1="573.2" y1="497.4" x2="575.2" y2="497.4" stroke="#4d4d4d" stroke-width="1"/>
<text x="0" y="0" font-size="8.6" text-anchor="end" fill="#1e1c1d" stroke="#1e1c1d" stroke-width="0.15" transform="translate(571.8 500.79) scale(1 1.1)">25</text>
<line x1="573.2" y1="470.1" x2="575.2" y2="470.1" stroke="#4d4d4d" stroke-width="1"/>
<text x="0" y="0" font-size="8.6" text-anchor="end" fill="#1e1c1d" stroke="#1e1c1d" stroke-width="0.15" transform="translate(571.8 473.49) scale(1 1.1)">50</text>
<line x1="573.2" y1="442.8" x2="575.2" y2="442.8" stroke="#4d4d4d" stroke-width="1"/>
<text x="0" y="0" font-size="8.6" text-anchor="end" fill="#1e1c1d" stroke="#1e1c1d" stroke-width="0.15" transform="translate(571.8 446.19) scale(1 1.1)">75</text>
<line x1="573.2" y1="415.5" x2="575.2" y2="415.5" stroke="#4d4d4d" stroke-width="1"/>
<text x="0" y="0" font-size="8.6" text-anchor="end" fill="#1e1c1d" stroke="#1e1c1d" stroke-width="0.15" transform="translate(571.8 418.89) scale(1 1.1)">100</text>
<text x="0" y="0" font-size="8.9" text-anchor="middle" fill="#1e1c1d" stroke="#1e1c1d" stroke-width="0.15" transform="translate(552.1 467.6) rotate(-90) translate(0 3.5) scale(1 1.1)">Score (%)</text>
<rect x="587" y="424.52" width="22.9" height="99.68" fill="#23599e"/>
<line x1="598.45" y1="419.1" x2="598.45" y2="424.52" stroke="#23599e" stroke-width="1.1"/>
<line x1="595.25" y1="419.1" x2="601.65" y2="419.1" stroke="#23599e" stroke-width="1.2"/>
<line x1="598.45" y1="524.7" x2="598.45" y2="526.9" stroke="#7a7a7a" stroke-width="1"/>
<text x="0" y="0" font-size="8.7" text-anchor="middle" fill="#1e1c1d" stroke="#1e1c1d" stroke-width="0.15" transform="translate(597.65 407.03) scale(1 1.1)">91.74%</text>
<text x="0" y="0" font-size="8.6" text-anchor="middle" fill="#1e1c1d" stroke="#1e1c1d" stroke-width="0.15" transform="translate(598.45 535.39) scale(1 1.1)">Acc.</text>
<rect x="625.55" y="427.65" width="22.9" height="96.55" fill="#1f7ab0"/>
<line x1="637" y1="420.41" x2="637" y2="427.65" stroke="#1f7ab0" stroke-width="1.1"/>
<line x1="633.8" y1="420.41" x2="640.2" y2="420.41" stroke="#1f7ab0" stroke-width="1.2"/>
<line x1="637" y1="524.7" x2="637" y2="526.9" stroke="#7a7a7a" stroke-width="1"/>
<text x="0" y="0" font-size="8.7" text-anchor="middle" fill="#1e1c1d" stroke="#1e1c1d" stroke-width="0.15" transform="translate(636.7 407.03) scale(1 1.1)">88.87%</text>
<text x="0" y="0" font-size="8.6" text-anchor="middle" fill="#1e1c1d" stroke="#1e1c1d" stroke-width="0.15" transform="translate(637 535.39) scale(1 1.1)">F</text>
<rect x="664.1" y="419.73" width="22.9" height="104.47" fill="#26a0d0"/>
<line x1="675.55" y1="413.53" x2="675.55" y2="419.73" stroke="#26a0d0" stroke-width="1.1"/>
<line x1="672.35" y1="413.53" x2="678.75" y2="413.53" stroke="#26a0d0" stroke-width="1.2"/>
<line x1="675.55" y1="524.7" x2="675.55" y2="526.9" stroke="#7a7a7a" stroke-width="1"/>
<text x="0" y="0" font-size="8.7" text-anchor="middle" fill="#1e1c1d" stroke="#1e1c1d" stroke-width="0.15" transform="translate(676.25 407.03) scale(1 1.1)">96.13%</text>
<text x="0" y="0" font-size="8.6" text-anchor="middle" fill="#1e1c1d" stroke="#1e1c1d" stroke-width="0.15" transform="translate(677.05 535.39) scale(1 1.1)">Sens.</text>
<rect x="702.65" y="437.14" width="22.9" height="87.06" fill="#74c4dc"/>
<line x1="714.1" y1="423.14" x2="714.1" y2="437.14" stroke="#74c4dc" stroke-width="1.1"/>
<line x1="710.9" y1="423.14" x2="717.3" y2="423.14" stroke="#74c4dc" stroke-width="1.2"/>
<line x1="714.1" y1="524.7" x2="714.1" y2="526.9" stroke="#7a7a7a" stroke-width="1"/>
<text x="0" y="0" font-size="8.7" text-anchor="middle" fill="#1e1c1d" stroke="#1e1c1d" stroke-width="0.15" transform="translate(716.1 407.03) scale(1 1.1)">80.18%</text>
<text x="0" y="0" font-size="8.6" text-anchor="middle" fill="#1e1c1d" stroke="#1e1c1d" stroke-width="0.15" transform="translate(717.1 535.39) scale(1 1.1)">Spec.</text>
<line x1="573.7" y1="524.7" x2="744" y2="524.7" stroke="#6e6e6e" stroke-width="1.5" stroke-opacity="0.6"/>
<text x="0" y="0" font-size="10.8" text-anchor="start" font-weight="bold" fill="#000" stroke="#000" stroke-width="0.15" transform="translate(2 565.17)">G</text>
<line x1="34.6" y1="582.3" x2="34.6" y2="699.2" stroke="#4d4d4d" stroke-width="1"/>
<line x1="32.6" y1="581.66" x2="34.6" y2="581.66" stroke="#4d4d4d" stroke-width="1"/>
<text x="0" y="0" font-size="8.6" text-anchor="end" fill="#1e1c1d" stroke="#1e1c1d" stroke-width="0.15" transform="translate(30.6 585.05) scale(1 1.1)">100</text>
<line x1="32.6" y1="610.98" x2="34.6" y2="610.98" stroke="#4d4d4d" stroke-width="1"/>
<text x="0" y="0" font-size="8.6" text-anchor="end" fill="#1e1c1d" stroke="#1e1c1d" stroke-width="0.15" transform="translate(30.6 614.37) scale(1 1.1)">50</text>
<line x1="32.6" y1="640.3" x2="34.6" y2="640.3" stroke="#4d4d4d" stroke-width="1"/>
<text x="0" y="0" font-size="8.6" text-anchor="end" fill="#1e1c1d" stroke="#1e1c1d" stroke-width="0.15" transform="translate(30.6 643.69) scale(1 1.1)">0</text>
<line x1="32.6" y1="669.62" x2="34.6" y2="669.62" stroke="#4d4d4d" stroke-width="1"/>
<text x="0" y="0" font-size="8.6" text-anchor="end" fill="#1e1c1d" stroke="#1e1c1d" stroke-width="0.15" transform="translate(30.6 673.01) scale(1 1.1)">-50</text>
<line x1="32.6" y1="698.94" x2="34.6" y2="698.94" stroke="#4d4d4d" stroke-width="1"/>
<text x="0" y="0" font-size="8.6" text-anchor="end" fill="#1e1c1d" stroke="#1e1c1d" stroke-width="0.15" transform="translate(30.6 702.33) scale(1 1.1)">-100</text>
<line x1="34.6" y1="699.2" x2="198.6" y2="699.2" stroke="#555" stroke-width="1.1"/>
<line x1="34.6" y1="699.2" x2="34.6" y2="701.4" stroke="#555" stroke-width="1"/>
<text x="0" y="0" font-size="8.6" text-anchor="middle" fill="#1e1c1d" stroke="#1e1c1d" stroke-width="0.15" transform="translate(34.6 710.39) scale(1 1.1)">0</text>
<line x1="75.6" y1="699.2" x2="75.6" y2="701.4" stroke="#555" stroke-width="1"/>
<text x="0" y="0" font-size="8.6" text-anchor="middle" fill="#1e1c1d" stroke="#1e1c1d" stroke-width="0.15" transform="translate(75.6 710.39) scale(1 1.1)">200</text>
<line x1="116.6" y1="699.2" x2="116.6" y2="701.4" stroke="#555" stroke-width="1"/>
<text x="0" y="0" font-size="8.6" text-anchor="middle" fill="#1e1c1d" stroke="#1e1c1d" stroke-width="0.15" transform="translate(116.6 710.39) scale(1 1.1)">400</text>
<line x1="157.6" y1="699.2" x2="157.6" y2="701.4" stroke="#555" stroke-width="1"/>
<text x="0" y="0" font-size="8.6" text-anchor="middle" fill="#1e1c1d" stroke="#1e1c1d" stroke-width="0.15" transform="translate(157.6 710.39) scale(1 1.1)">600</text>
<line x1="198.6" y1="699.2" x2="198.6" y2="701.4" stroke="#555" stroke-width="1"/>
<text x="0" y="0" font-size="8.6" text-anchor="middle" fill="#1e1c1d" stroke="#1e1c1d" stroke-width="0.15" transform="translate(198.6 710.39) scale(1 1.1)">800</text>
<text x="0" y="0" font-size="8.9" text-anchor="middle" fill="#1e1c1d" stroke="#1e1c1d" stroke-width="0.15" transform="translate(10.7 643) rotate(-90) translate(0 3.5) scale(1 1.1)">TST difference (min)</text>
<text x="0" y="0" font-size="8.9" text-anchor="middle" fill="#1e1c1d" stroke="#1e1c1d" stroke-width="0.15" transform="translate(116.5 719.9) scale(1 1.1)">TST average (min)</text>
<line x1="34.6" y1="595.5" x2="198.6" y2="595.5" stroke="#c2c2c2" stroke-width="1.05" stroke-dasharray="7.2 3"/>
<line x1="34.6" y1="629.4" x2="198.6" y2="629.4" stroke="#c2c2c2" stroke-width="1.05"/>
<line x1="34.6" y1="663.6" x2="198.6" y2="663.6" stroke="#c2c2c2" stroke-width="1.05" stroke-dasharray="7.2 3"/>
<circle cx="99.7" cy="584.7" r="1.95" fill="none" stroke="#4b7fb8" stroke-width="0.8"/>
<circle cx="106.4" cy="591.5" r="1.95" fill="none" stroke="#4b7fb8" stroke-width="0.8"/>
<circle cx="113.4" cy="600.3" r="1.95" fill="none" stroke="#4b7fb8" stroke-width="0.8"/>
<circle cx="133.3" cy="609.1" r="1.95" fill="none" stroke="#4b7fb8" stroke-width="0.8"/>
<circle cx="81.7" cy="614.2" r="1.95" fill="none" stroke="#4b7fb8" stroke-width="0.8"/>
<circle cx="118.6" cy="614.7" r="1.95" fill="none" stroke="#4b7fb8" stroke-width="0.8"/>
<circle cx="69.2" cy="620.8" r="1.95" fill="none" stroke="#4b7fb8" stroke-width="0.8"/>
<circle cx="90.8" cy="621.1" r="1.95" fill="none" stroke="#4b7fb8" stroke-width="0.8"/>
<circle cx="107.8" cy="622.8" r="1.95" fill="none" stroke="#4b7fb8" stroke-width="0.8"/>
<circle cx="111.1" cy="624.4" r="1.95" fill="none" stroke="#4b7fb8" stroke-width="0.8"/>
<circle cx="120.3" cy="625.3" r="1.95" fill="none" stroke="#4b7fb8" stroke-width="0.8"/>
<circle cx="121.5" cy="627.3" r="1.95" fill="none" stroke="#4b7fb8" stroke-width="0.8"/>
<circle cx="98.5" cy="627.3" r="1.95" fill="none" stroke="#4b7fb8" stroke-width="0.8"/>
<circle cx="122.9" cy="629.4" r="1.95" fill="none" stroke="#4b7fb8" stroke-width="0.8"/>
<circle cx="119.4" cy="630.5" r="1.95" fill="none" stroke="#4b7fb8" stroke-width="0.8"/>
<circle cx="105.4" cy="632.2" r="1.95" fill="none" stroke="#4b7fb8" stroke-width="0.8"/>
<circle cx="141.5" cy="633.2" r="1.95" fill="none" stroke="#4b7fb8" stroke-width="0.8"/>
<circle cx="120.7" cy="634.8" r="1.95" fill="none" stroke="#4b7fb8" stroke-width="0.8"/>
<circle cx="113.2" cy="635.3" r="1.95" fill="none" stroke="#4b7fb8" stroke-width="0.8"/>
<circle cx="107.8" cy="636.2" r="1.95" fill="none" stroke="#4b7fb8" stroke-width="0.8"/>
<circle cx="110.8" cy="636.5" r="1.95" fill="none" stroke="#4b7fb8" stroke-width="0.8"/>
<circle cx="129.2" cy="635.8" r="1.95" fill="none" stroke="#4b7fb8" stroke-width="0.8"/>
<circle cx="97.3" cy="637.6" r="1.95" fill="none" stroke="#4b7fb8" stroke-width="0.8"/>
<circle cx="116.2" cy="638.4" r="1.95" fill="none" stroke="#4b7fb8" stroke-width="0.8"/>
<circle cx="104.9" cy="640.3" r="1.95" fill="none" stroke="#4b7fb8" stroke-width="0.8"/>
<circle cx="111.8" cy="640.9" r="1.95" fill="none" stroke="#4b7fb8" stroke-width="0.8"/>
<circle cx="98.5" cy="643.8" r="1.95" fill="none" stroke="#4b7fb8" stroke-width="0.8"/>
<circle cx="127.4" cy="646.6" r="1.95" fill="none" stroke="#4b7fb8" stroke-width="0.8"/>
<circle cx="145.6" cy="646.6" r="1.95" fill="none" stroke="#4b7fb8" stroke-width="0.8"/>
<circle cx="67.4" cy="654.4" r="1.95" fill="none" stroke="#4b7fb8" stroke-width="0.8"/>
<circle cx="99.3" cy="676.7" r="1.95" fill="none" stroke="#4b7fb8" stroke-width="0.8"/>
<text x="0" y="0" font-size="10.8" text-anchor="start" font-weight="bold" fill="#000" stroke="#000" stroke-width="0.15" transform="translate(281.7 565.17)">H</text>
<line x1="317.3" y1="582.3" x2="317.3" y2="699.2" stroke="#4d4d4d" stroke-width="1"/>
<line x1="315.3" y1="582.18" x2="317.3" y2="582.18" stroke="#4d4d4d" stroke-width="1"/>
<text x="0" y="0" font-size="8.6" text-anchor="end" fill="#1e1c1d" stroke="#1e1c1d" stroke-width="0.15" transform="translate(313.3 585.57) scale(1 1.1)">150</text>
<line x1="315.3" y1="601.62" x2="317.3" y2="601.62" stroke="#4d4d4d" stroke-width="1"/>
<text x="0" y="0" font-size="8.6" text-anchor="end" fill="#1e1c1d" stroke="#1e1c1d" stroke-width="0.15" transform="translate(313.3 605.01) scale(1 1.1)">100</text>
<line x1="315.3" y1="621.06" x2="317.3" y2="621.06" stroke="#4d4d4d" stroke-width="1"/>
<text x="0" y="0" font-size="8.6" text-anchor="end" fill="#1e1c1d" stroke="#1e1c1d" stroke-width="0.15" transform="translate(313.3 624.45) scale(1 1.1)">50</text>
<line x1="315.3" y1="640.5" x2="317.3" y2="640.5" stroke="#4d4d4d" stroke-width="1"/>
<text x="0" y="0" font-size="8.6" text-anchor="end" fill="#1e1c1d" stroke="#1e1c1d" stroke-width="0.15" transform="translate(313.3 643.89) scale(1 1.1)">0</text>
<line x1="315.3" y1="659.94" x2="317.3" y2="659.94" stroke="#4d4d4d" stroke-width="1"/>
<text x="0" y="0" font-size="8.6" text-anchor="end" fill="#1e1c1d" stroke="#1e1c1d" stroke-width="0.15" transform="translate(313.3 663.33) scale(1 1.1)">-50</text>
<line x1="315.3" y1="679.38" x2="317.3" y2="679.38" stroke="#4d4d4d" stroke-width="1"/>
<text x="0" y="0" font-size="8.6" text-anchor="end" fill="#1e1c1d" stroke="#1e1c1d" stroke-width="0.15" transform="translate(313.3 682.77) scale(1 1.1)">-100</text>
<line x1="315.3" y1="698.82" x2="317.3" y2="698.82" stroke="#4d4d4d" stroke-width="1"/>
<text x="0" y="0" font-size="8.6" text-anchor="end" fill="#1e1c1d" stroke="#1e1c1d" stroke-width="0.15" transform="translate(313.3 702.21) scale(1 1.1)">-150</text>
<line x1="317.3" y1="699.2" x2="480.7" y2="699.2" stroke="#555" stroke-width="1.1"/>
<line x1="317.3" y1="699.2" x2="317.3" y2="701.4" stroke="#555" stroke-width="1"/>
<text x="0" y="0" font-size="8.6" text-anchor="middle" fill="#1e1c1d" stroke="#1e1c1d" stroke-width="0.15" transform="translate(317.3 710.39) scale(1 1.1)">0</text>
<line x1="371.76" y1="699.2" x2="371.76" y2="701.4" stroke="#555" stroke-width="1"/>
<text x="0" y="0" font-size="8.6" text-anchor="middle" fill="#1e1c1d" stroke="#1e1c1d" stroke-width="0.15" transform="translate(371.76 710.39) scale(1 1.1)">50</text>
<line x1="426.23" y1="699.2" x2="426.23" y2="701.4" stroke="#555" stroke-width="1"/>
<text x="0" y="0" font-size="8.6" text-anchor="middle" fill="#1e1c1d" stroke="#1e1c1d" stroke-width="0.15" transform="translate(426.23 710.39) scale(1 1.1)">100</text>
<line x1="480.69" y1="699.2" x2="480.69" y2="701.4" stroke="#555" stroke-width="1"/>
<text x="0" y="0" font-size="8.6" text-anchor="middle" fill="#1e1c1d" stroke="#1e1c1d" stroke-width="0.15" transform="translate(480.69 710.39) scale(1 1.1)">150</text>
<text x="0" y="0" font-size="8.9" text-anchor="middle" fill="#1e1c1d" stroke="#1e1c1d" stroke-width="0.15" transform="translate(290.8 646.5) rotate(-90) translate(0 3.5) scale(1 1.1)">WASO difference (min)</text>
<text x="0" y="0" font-size="8.9" text-anchor="middle" fill="#1e1c1d" stroke="#1e1c1d" stroke-width="0.15" transform="translate(397.4 719.9) scale(1 1.1)">WASO average (min)</text>
<line x1="317.3" y1="617.4" x2="480.7" y2="617.4" stroke="#c2c2c2" stroke-width="1.05" stroke-dasharray="7.2 3"/>
<line x1="317.3" y1="641.7" x2="480.7" y2="641.7" stroke="#c2c2c2" stroke-width="1.05"/>
<line x1="317.3" y1="666.2" x2="480.7" y2="666.2" stroke="#c2c2c2" stroke-width="1.05" stroke-dasharray="7.2 3"/>
<circle cx="356.8" cy="625.6" r="1.95" fill="none" stroke="#4b7fb8" stroke-width="0.8"/>
<circle cx="329" cy="634" r="1.95" fill="none" stroke="#4b7fb8" stroke-width="0.8"/>
<circle cx="337.6" cy="633.4" r="1.95" fill="none" stroke="#4b7fb8" stroke-width="0.8"/>
<circle cx="336.4" cy="636" r="1.95" fill="none" stroke="#4b7fb8" stroke-width="0.8"/>
<circle cx="337.8" cy="637.9" r="1.95" fill="none" stroke="#4b7fb8" stroke-width="0.8"/>
<circle cx="343.6" cy="636.8" r="1.95" fill="none" stroke="#4b7fb8" stroke-width="0.8"/>
<circle cx="367.8" cy="638.5" r="1.95" fill="none" stroke="#4b7fb8" stroke-width="0.8"/>
<circle cx="325.6" cy="640.8" r="1.95" fill="none" stroke="#4b7fb8" stroke-width="0.8"/>
<circle cx="329" cy="640.3" r="1.95" fill="none" stroke="#4b7fb8" stroke-width="0.8"/>
<circle cx="322.6" cy="642.6" r="1.95" fill="none" stroke="#4b7fb8" stroke-width="0.8"/>
<circle cx="323.8" cy="643.4" r="1.95" fill="none" stroke="#4b7fb8" stroke-width="0.8"/>
<circle cx="330.6" cy="642.6" r="1.95" fill="none" stroke="#4b7fb8" stroke-width="0.8"/>
<circle cx="334" cy="642.8" r="1.95" fill="none" stroke="#4b7fb8" stroke-width="0.8"/>
<circle cx="354.4" cy="642.2" r="1.95" fill="none" stroke="#4b7fb8" stroke-width="0.8"/>
<circle cx="355.6" cy="644.2" r="1.95" fill="none" stroke="#4b7fb8" stroke-width="0.8"/>
<circle cx="364.4" cy="643.3" r="1.95" fill="none" stroke="#4b7fb8" stroke-width="0.8"/>
<circle cx="329.2" cy="644.4" r="1.95" fill="none" stroke="#4b7fb8" stroke-width="0.8"/>
<circle cx="343.6" cy="644.4" r="1.95" fill="none" stroke="#4b7fb8" stroke-width="0.8"/>
<circle cx="383.9" cy="645.8" r="1.95" fill="none" stroke="#4b7fb8" stroke-width="0.8"/>
<circle cx="329.8" cy="647.6" r="1.95" fill="none" stroke="#4b7fb8" stroke-width="0.8"/>
<circle cx="336.2" cy="648" r="1.95" fill="none" stroke="#4b7fb8" stroke-width="0.8"/>
<circle cx="341.8" cy="647.6" r="1.95" fill="none" stroke="#4b7fb8" stroke-width="0.8"/>
<circle cx="346" cy="646.9" r="1.95" fill="none" stroke="#4b7fb8" stroke-width="0.8"/>
<circle cx="357.5" cy="648.5" r="1.95" fill="none" stroke="#4b7fb8" stroke-width="0.8"/>
<circle cx="334.6" cy="650.8" r="1.95" fill="none" stroke="#4b7fb8" stroke-width="0.8"/>
<circle cx="349.4" cy="651.4" r="1.95" fill="none" stroke="#4b7fb8" stroke-width="0.8"/>
<circle cx="372.4" cy="652.9" r="1.95" fill="none" stroke="#4b7fb8" stroke-width="0.8"/>
<circle cx="368.1" cy="655.4" r="1.95" fill="none" stroke="#4b7fb8" stroke-width="0.8"/>
<circle cx="366.2" cy="663.2" r="1.95" fill="none" stroke="#4b7fb8" stroke-width="0.8"/>
<circle cx="323.2" cy="642.9" r="1.95" fill="none" stroke="#4b7fb8" stroke-width="0.8"/>
<circle cx="448.3" cy="584.6" r="1.95" fill="none" stroke="#4b7fb8" stroke-width="0.8"/>
<text x="0" y="0" font-size="10.8" text-anchor="start" font-weight="bold" fill="#000" stroke="#000" stroke-width="0.15" transform="translate(543.3 565.17)">I</text>
<line x1="578.1" y1="585.8" x2="578.1" y2="702" stroke="#4d4d4d" stroke-width="1"/>
<line x1="576.1" y1="702" x2="578.1" y2="702" stroke="#4d4d4d" stroke-width="1"/>
<text x="0" y="0" font-size="8.6" text-anchor="end" fill="#1e1c1d" stroke="#1e1c1d" stroke-width="0.15" transform="translate(574.7 705.39) scale(1 1.1)">0.00</text>
<line x1="576.1" y1="682.64" x2="578.1" y2="682.64" stroke="#4d4d4d" stroke-width="1"/>
<text x="0" y="0" font-size="8.6" text-anchor="end" fill="#1e1c1d" stroke="#1e1c1d" stroke-width="0.15" transform="translate(574.7 686.03) scale(1 1.1)">0.10</text>
<line x1="576.1" y1="663.28" x2="578.1" y2="663.28" stroke="#4d4d4d" stroke-width="1"/>
<text x="0" y="0" font-size="8.6" text-anchor="end" fill="#1e1c1d" stroke="#1e1c1d" stroke-width="0.15" transform="translate(574.7 666.67) scale(1 1.1)">0.20</text>
<line x1="576.1" y1="643.92" x2="578.1" y2="643.92" stroke="#4d4d4d" stroke-width="1"/>
<text x="0" y="0" font-size="8.6" text-anchor="end" fill="#1e1c1d" stroke="#1e1c1d" stroke-width="0.15" transform="translate(574.7 647.31) scale(1 1.1)">0.30</text>
<line x1="576.1" y1="624.56" x2="578.1" y2="624.56" stroke="#4d4d4d" stroke-width="1"/>
<text x="0" y="0" font-size="8.6" text-anchor="end" fill="#1e1c1d" stroke="#1e1c1d" stroke-width="0.15" transform="translate(574.7 627.95) scale(1 1.1)">0.40</text>
<line x1="576.1" y1="605.2" x2="578.1" y2="605.2" stroke="#4d4d4d" stroke-width="1"/>
<text x="0" y="0" font-size="8.6" text-anchor="end" fill="#1e1c1d" stroke="#1e1c1d" stroke-width="0.15" transform="translate(574.7 608.59) scale(1 1.1)">0.50</text>
<line x1="576.1" y1="585.84" x2="578.1" y2="585.84" stroke="#4d4d4d" stroke-width="1"/>
<text x="0" y="0" font-size="8.6" text-anchor="end" fill="#1e1c1d" stroke="#1e1c1d" stroke-width="0.15" transform="translate(574.7 589.23) scale(1 1.1)">0.60</text>
<text x="0" y="0" font-size="8.9" text-anchor="middle" fill="#1e1c1d" stroke="#1e1c1d" stroke-width="0.15" transform="translate(550.1 640) rotate(-90) translate(0 3.5) scale(1 1.1)">Standard deviation (g)</text>
<line x1="613.6" y1="690.3" x2="671.2" y2="586.4" stroke="#333" stroke-width="0.8"/>
<line x1="613.6" y1="702" x2="671.2" y2="702" stroke="#333" stroke-width="0.8"/>
<rect x="578.1" y="690.3" width="35.5" height="11.7" fill="none" stroke="#333" stroke-width="0.8"/>
<line x1="578.1" y1="699.5" x2="613.6" y2="699.5" stroke="#c2c2c2" stroke-width="1" stroke-dasharray="5 2.5"/>
<circle cx="596.1" cy="597.9" r="1.3" fill="#13878a"/>
<circle cx="596.1" cy="613.7" r="1.1" fill="#13878a"/>
<circle cx="596.1" cy="616.7" r="1.1" fill="#13878a"/>
<rect x="594.9" y="621.6" width="2.4" height="79.4" fill="#13878a"/>
<line x1="589" y1="701.2" x2="603" y2="701.2" stroke="#13878a" stroke-width="1.2"/>
<line x1="668.8" y1="586.4" x2="671.2" y2="586.4" stroke="#4d4d4d" stroke-width="1"/>
<rect x="645.2" y="579.9" width="23.3" height="13" fill="#fff"/>
<text x="0" y="0" font-size="8.6" text-anchor="end" fill="#1e1c1d" stroke="#1e1c1d" stroke-width="0.15" transform="translate(667.6 589.79) scale(1 1.1)">0.060</text>
<line x1="668.8" y1="625" x2="671.2" y2="625" stroke="#4d4d4d" stroke-width="1"/>
<rect x="645.2" y="618.5" width="23.3" height="13" fill="#fff"/>
<text x="0" y="0" font-size="8.6" text-anchor="end" fill="#1e1c1d" stroke="#1e1c1d" stroke-width="0.15" transform="translate(667.6 628.39) scale(1 1.1)">0.040</text>
<line x1="668.8" y1="663.6" x2="671.2" y2="663.6" stroke="#4d4d4d" stroke-width="1"/>
<rect x="645.2" y="657.1" width="23.3" height="13" fill="#fff"/>
<text x="0" y="0" font-size="8.6" text-anchor="end" fill="#1e1c1d" stroke="#1e1c1d" stroke-width="0.15" transform="translate(667.6 666.99) scale(1 1.1)">0.020</text>
<line x1="668.8" y1="702.2" x2="671.2" y2="702.2" stroke="#4d4d4d" stroke-width="1"/>
<rect x="645.2" y="695.7" width="23.3" height="13" fill="#fff"/>
<text x="0" y="0" font-size="8.6" text-anchor="end" fill="#1e1c1d" stroke="#1e1c1d" stroke-width="0.15" transform="translate(667.6 705.59) scale(1 1.1)">0.000</text>
<text x="0" y="0" font-size="8.6" text-anchor="end" fill="#a8a8a8" stroke="#a8a8a8" stroke-width="0.15" transform="translate(667.6 680.49) scale(1 1.1)">0.013</text>
<line x1="671.2" y1="677.2" x2="742.4" y2="677.2" stroke="#c2c2c2" stroke-width="1.1" stroke-dasharray="7.2 3"/>
<line x1="689.4" y1="586.9" x2="689.4" y2="681" stroke="#13878a" stroke-width="2.5" stroke-dasharray="2.2 0.5 1.6 0.6 2.8 0.4"/>
<line x1="685.2" y1="681.1" x2="693.1" y2="681.1" stroke="#4aa8a8" stroke-width="1"/>
<line x1="689.3" y1="681.1" x2="689.3" y2="692.3" stroke="#4aa8a8" stroke-width="1"/>
<rect x="682.3" y="692.3" width="14.2" height="7.2" fill="none" stroke="#4aa8a8" stroke-width="1"/>
<line x1="706.9" y1="586.4" x2="706.9" y2="694" stroke="#4aa8a8" stroke-width="1.1"/>
<polygon points="706.3,702.2 706.3,693.8 707.5,694.2 707.8,695.2 711.7,695.2 711.7,697.3 720,698 735.7,699 735.7,702.2" fill="#80c8c2" stroke="#2a9292" stroke-width="0.8"/>
<rect x="671.2" y="586.4" width="71.2" height="115.8" fill="none" stroke="#4d4d4d" stroke-width="1"/>
<text x="0" y="0" font-size="10.8" text-anchor="start" font-weight="bold" fill="#000" stroke="#000" stroke-width="0.15" transform="translate(2 743.87)">J</text>
<line x1="34.5" y1="756.1" x2="34.5" y2="872.5" stroke="#4d4d4d" stroke-width="1"/>
<line x1="32.5" y1="872.5" x2="34.5" y2="872.5" stroke="#4d4d4d" stroke-width="1"/>
<text x="0" y="0" font-size="8.6" text-anchor="end" fill="#1e1c1d" stroke="#1e1c1d" stroke-width="0.15" transform="translate(31.1 875.89) scale(1 1.1)">0.00</text>
<line x1="32.5" y1="853.1" x2="34.5" y2="853.1" stroke="#4d4d4d" stroke-width="1"/>
<text x="0" y="0" font-size="8.6" text-anchor="end" fill="#1e1c1d" stroke="#1e1c1d" stroke-width="0.15" transform="translate(31.1 856.49) scale(1 1.1)">1.50</text>
<line x1="32.5" y1="833.7" x2="34.5" y2="833.7" stroke="#4d4d4d" stroke-width="1"/>
<text x="0" y="0" font-size="8.6" text-anchor="end" fill="#1e1c1d" stroke="#1e1c1d" stroke-width="0.15" transform="translate(31.1 837.09) scale(1 1.1)">3.00</text>
<line x1="32.5" y1="814.3" x2="34.5" y2="814.3" stroke="#4d4d4d" stroke-width="1"/>
<text x="0" y="0" font-size="8.6" text-anchor="end" fill="#1e1c1d" stroke="#1e1c1d" stroke-width="0.15" transform="translate(31.1 817.69) scale(1 1.1)">4.50</text>
<line x1="32.5" y1="794.9" x2="34.5" y2="794.9" stroke="#4d4d4d" stroke-width="1"/>
<text x="0" y="0" font-size="8.6" text-anchor="end" fill="#1e1c1d" stroke="#1e1c1d" stroke-width="0.15" transform="translate(31.1 798.29) scale(1 1.1)">6.00</text>
<line x1="32.5" y1="775.5" x2="34.5" y2="775.5" stroke="#4d4d4d" stroke-width="1"/>
<text x="0" y="0" font-size="8.6" text-anchor="end" fill="#1e1c1d" stroke="#1e1c1d" stroke-width="0.15" transform="translate(31.1 778.89) scale(1 1.1)">7.50</text>
<line x1="32.5" y1="756.1" x2="34.5" y2="756.1" stroke="#4d4d4d" stroke-width="1"/>
<text x="0" y="0" font-size="8.6" text-anchor="end" fill="#1e1c1d" stroke="#1e1c1d" stroke-width="0.15" transform="translate(31.1 759.49) scale(1 1.1)">9.00</text>
<text x="0" y="0" font-size="8.9" text-anchor="middle" fill="#1e1c1d" stroke="#1e1c1d" stroke-width="0.15" transform="translate(4.5 808.5) rotate(-90) translate(0 3.5) scale(1 1.1)">Range (g)</text>
<rect x="34.5" y="865.1" width="35.2" height="7.4" fill="none" stroke="#333" stroke-width="0.8"/>
<rect x="51" y="820.1" width="2.2" height="30.9" fill="#13878a"/>
<line x1="48.5" y1="851.2" x2="55.8" y2="851.2" stroke="#4aa8a8" stroke-width="1"/>
<line x1="52.1" y1="851.2" x2="52.1" y2="864.1" stroke="#4aa8a8" stroke-width="1"/>
<rect x="45.1" y="864.1" width="14.7" height="8.1" fill="none" stroke="#4aa8a8" stroke-width="1.1"/>
<line x1="69.7" y1="865.1" x2="125.6" y2="756.4" stroke="#333" stroke-width="0.8"/>
<line x1="69.7" y1="872.5" x2="104.9" y2="872.5" stroke="#333" stroke-width="0.8"/>
<line x1="123.4" y1="756.4" x2="125.6" y2="756.4" stroke="#4d4d4d" stroke-width="1"/>
<text x="0" y="0" font-size="8.6" text-anchor="end" fill="#1e1c1d" stroke="#1e1c1d" stroke-width="0.15" transform="translate(122 759.79) scale(1 1.1)">0.60</text>
<line x1="123.4" y1="795.37" x2="125.6" y2="795.37" stroke="#4d4d4d" stroke-width="1"/>
<text x="0" y="0" font-size="8.6" text-anchor="end" fill="#1e1c1d" stroke="#1e1c1d" stroke-width="0.15" transform="translate(122 798.75) scale(1 1.1)">0.40</text>
<line x1="123.4" y1="834.33" x2="125.6" y2="834.33" stroke="#4d4d4d" stroke-width="1"/>
<text x="0" y="0" font-size="8.6" text-anchor="end" fill="#1e1c1d" stroke="#1e1c1d" stroke-width="0.15" transform="translate(122 837.72) scale(1 1.1)">0.20</text>
<line x1="123.4" y1="873.3" x2="125.6" y2="873.3" stroke="#4d4d4d" stroke-width="1"/>
<text x="0" y="0" font-size="8.6" text-anchor="end" fill="#1e1c1d" stroke="#1e1c1d" stroke-width="0.15" transform="translate(122 876.69) scale(1 1.1)">0.00</text>
<text x="0" y="0" font-size="8.6" text-anchor="end" fill="#a8a8a8" stroke="#a8a8a8" stroke-width="0.15" transform="translate(122 866.69) scale(1 1.1)">0.05</text>
<line x1="125.6" y1="864" x2="196.6" y2="864" stroke="#c2c2c2" stroke-width="1.1" stroke-dasharray="7.2 3"/>
<line x1="137" y1="756.4" x2="137" y2="870.6" stroke="#4aa8a8" stroke-width="1"/>
<line x1="151.4" y1="756.4" x2="151.4" y2="870.6" stroke="#4aa8a8" stroke-width="1"/>
<line x1="137" y1="863.3" x2="151.4" y2="863.3" stroke="#4aa8a8" stroke-width="1"/>
<line x1="137" y1="870.6" x2="151.4" y2="870.6" stroke="#4aa8a8" stroke-width="1"/>
<line x1="161.6" y1="756.4" x2="161.6" y2="834" stroke="#4aa8a8" stroke-width="1.1"/>
<polygon points="161,873.3 161,830 162.4,830 162.8,834 163.2,846 163.9,846 163.9,861 165,861 165,866.3 167,866.3 167.5,868 172,868.3 184.9,869.5 184.9,873.3" fill="#6cc0b8" stroke="#2a9292" stroke-width="0.8"/>
<rect x="125.6" y="756.4" width="71" height="116.9" fill="none" stroke="#4d4d4d" stroke-width="1"/>
<text x="0" y="0" font-size="10.8" text-anchor="start" font-weight="bold" fill="#000" stroke="#000" stroke-width="0.15" transform="translate(284.3 743.87)">K</text>
<line x1="315" y1="758.3" x2="315" y2="873.3" stroke="#a8a8a8" stroke-width="1.3"/>
<line x1="313" y1="873.3" x2="315" y2="873.3" stroke="#4d4d4d" stroke-width="1"/>
<text x="0" y="0" font-size="8.6" text-anchor="end" fill="#1e1c1d" stroke="#1e1c1d" stroke-width="0.15" transform="translate(311.4 876.69) scale(1 1.1)">0</text>
<line x1="313" y1="850.3" x2="315" y2="850.3" stroke="#4d4d4d" stroke-width="1"/>
<text x="0" y="0" font-size="8.6" text-anchor="end" fill="#1e1c1d" stroke="#1e1c1d" stroke-width="0.15" transform="translate(311.4 853.69) scale(1 1.1)">20</text>
<line x1="313" y1="827.3" x2="315" y2="827.3" stroke="#4d4d4d" stroke-width="1"/>
<text x="0" y="0" font-size="8.6" text-anchor="end" fill="#1e1c1d" stroke="#1e1c1d" stroke-width="0.15" transform="translate(311.4 830.69) scale(1 1.1)">40</text>
<line x1="313" y1="804.3" x2="315" y2="804.3" stroke="#4d4d4d" stroke-width="1"/>
<text x="0" y="0" font-size="8.6" text-anchor="end" fill="#1e1c1d" stroke="#1e1c1d" stroke-width="0.15" transform="translate(311.4 807.69) scale(1 1.1)">60</text>
<line x1="313" y1="781.3" x2="315" y2="781.3" stroke="#4d4d4d" stroke-width="1"/>
<text x="0" y="0" font-size="8.6" text-anchor="end" fill="#1e1c1d" stroke="#1e1c1d" stroke-width="0.15" transform="translate(311.4 784.69) scale(1 1.1)">80</text>
<line x1="313" y1="758.3" x2="315" y2="758.3" stroke="#4d4d4d" stroke-width="1"/>
<text x="0" y="0" font-size="8.6" text-anchor="end" fill="#1e1c1d" stroke="#1e1c1d" stroke-width="0.15" transform="translate(311.4 761.69) scale(1 1.1)">100</text>
<line x1="313.5" y1="873.3" x2="516" y2="873.3" stroke="#555" stroke-width="1.2"/>
<text x="0" y="0" font-size="8.9" text-anchor="middle" fill="#1e1c1d" stroke="#1e1c1d" stroke-width="0.15" transform="translate(288.8 820) rotate(-90) translate(0 3.5) scale(1 1.1)">Score (%)</text>
<rect x="330.4" y="766.94" width="28.6" height="105.86" fill="#7bc3bb"/>
<line x1="343.7" y1="873.3" x2="343.7" y2="875.5" stroke="#7a7a7a" stroke-width="1"/>
<text x="0" y="0" font-size="8.8" text-anchor="middle" fill="#1e1c1d" stroke="#1e1c1d" stroke-width="0.15" transform="translate(344.1 755.17) scale(1 1.1)">92.49%</text>
<text x="0" y="0" font-size="8.6" text-anchor="middle" fill="#1e1c1d" stroke="#1e1c1d" stroke-width="0.15" transform="translate(343.2 884.29) scale(1 1.1)">Acc.</text>
<rect x="378.05" y="763.35" width="28.6" height="109.45" fill="#7bc3bb"/>
<line x1="391.35" y1="873.3" x2="391.35" y2="875.5" stroke="#7a7a7a" stroke-width="1"/>
<text x="0" y="0" font-size="8.8" text-anchor="middle" fill="#1e1c1d" stroke="#1e1c1d" stroke-width="0.15" transform="translate(391.75 755.17) scale(1 1.1)">95.61%</text>
<text x="0" y="0" font-size="8.6" text-anchor="middle" fill="#1e1c1d" stroke="#1e1c1d" stroke-width="0.15" transform="translate(390.85 884.29) scale(1 1.1)">F</text>
<rect x="425.7" y="767.86" width="28.6" height="104.94" fill="#7bc3bb"/>
<line x1="439" y1="873.3" x2="439" y2="875.5" stroke="#7a7a7a" stroke-width="1"/>
<text x="0" y="0" font-size="8.8" text-anchor="middle" fill="#1e1c1d" stroke="#1e1c1d" stroke-width="0.15" transform="translate(439.4 755.17) scale(1 1.1)">91.69%</text>
<text x="0" y="0" font-size="8.6" text-anchor="middle" fill="#1e1c1d" stroke="#1e1c1d" stroke-width="0.15" transform="translate(438.5 884.29) scale(1 1.1)">Sens.</text>
<rect x="473.35" y="759.23" width="28.6" height="113.57" fill="#7bc3bb"/>
<line x1="486.65" y1="873.3" x2="486.65" y2="875.5" stroke="#7a7a7a" stroke-width="1"/>
<text x="0" y="0" font-size="8.8" text-anchor="middle" fill="#1e1c1d" stroke="#1e1c1d" stroke-width="0.15" transform="translate(487.05 755.17) scale(1 1.1)">99.19%</text>
<text x="0" y="0" font-size="8.6" text-anchor="middle" fill="#1e1c1d" stroke="#1e1c1d" stroke-width="0.15" transform="translate(486.15 884.29) scale(1 1.1)">Spec.</text>
</svg>
</body></html>
